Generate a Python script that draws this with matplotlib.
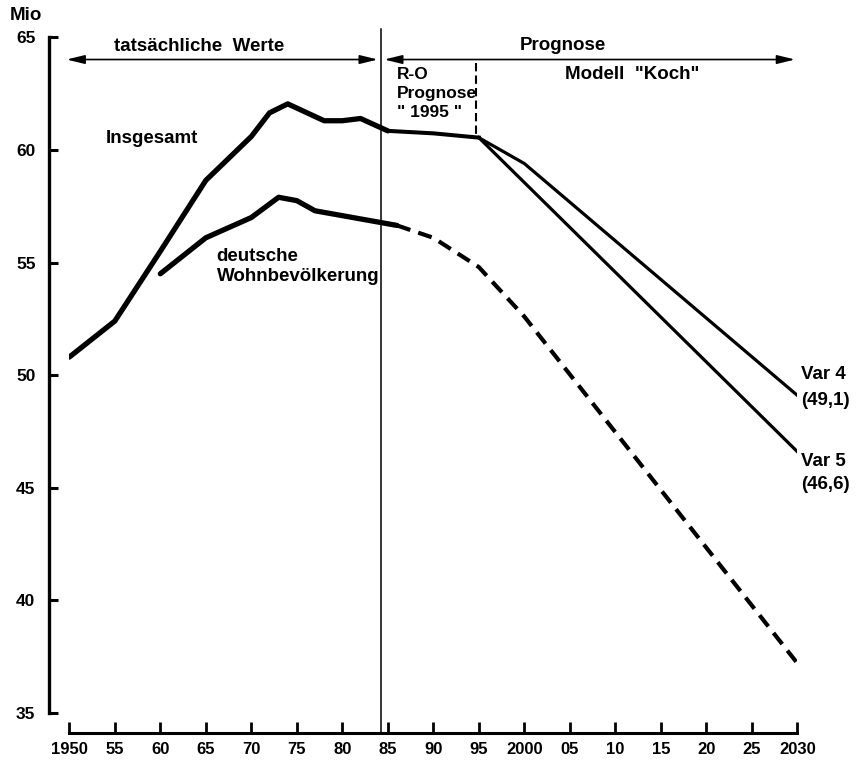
import matplotlib

matplotlib.use("Agg")
import matplotlib.pyplot as plt

plt.rcParams["font.family"] = ["Liberation Sans", "DejaVu Sans"]
plt.rcParams["font.weight"] = "bold"
plt.rcParams["font.size"] = 12

# ── data (Mio) ──
ins_years = [1950, 1955, 1960, 1965, 1970, 1972, 1974, 1978, 1980, 1982, 1985]
ins_values = [50.8, 52.4, 55.5, 58.65, 60.6, 61.65, 62.05, 61.3, 61.3, 61.4, 60.85]

ro_years = [1985, 1990, 1995]
ro_values = [60.85, 60.74, 60.55]

var4_years = [1995, 2000, 2030]
var4_values = [60.55, 59.4, 49.1]

var5_years = [1995, 2030]
var5_values = [60.55, 46.6]

dt_years = [1960, 1965, 1970, 1973, 1975, 1977, 1986]
dt_values = [54.5, 56.1, 57.0, 57.9, 57.75, 57.3, 56.65]

dt_prog_years = [1986, 1990, 1995, 2000, 2030]
dt_prog_values = [56.65, 56.1, 54.8, 52.6, 37.2]

x_ticks = list(range(1950, 2031, 5))
x_labels = ["1950", "55", "60", "65", "70", "75", "80", "85", "90", "95",
            "2000", "05", "10", "15", "20", "25", "2030"]
y_ticks = [35, 40, 45, 50, 55, 60, 65]

split_year = 1984.2
ro_end = 1994.7
TXT = 13.5

fig = plt.figure(figsize=(8.6, 7.63), dpi=100)
ax = fig.add_axes([0.0806, 0.0659, 0.8465, 0.8850])

# ── lines ──
ax.plot(ins_years, ins_values, color="black", lw=3.8, solid_joinstyle="round",
        solid_capstyle="round")
ax.plot(ro_years, ro_values, color="black", lw=2.9)
ax.plot(var4_years, var4_values, color="black", lw=2.3)
ax.plot(var5_years, var5_values, color="black", lw=2.3)
ax.plot(dt_years, dt_values, color="black", lw=3.8, solid_joinstyle="round",
        solid_capstyle="round")
ax.plot(dt_prog_years, dt_prog_values, color="black", lw=3.0,
        linestyle=(0, (3.4, 2.0)))

# separators
ax.plot([split_year, split_year], [65.36, 34.11], color="black", lw=1.1,
        clip_on=False)
ax.plot([ro_end, ro_end], [63.85, 60.6], color="black", lw=1.5,
        linestyle=(0, (4, 2)))

# ── arrows on top ──
arrow = dict(arrowstyle="<|-|>,head_length=0.9,head_width=0.22",
             color="black", lw=1.2, shrinkA=0, shrinkB=0, mutation_scale=12)
ax.annotate("", xy=(1949.7, 64.02), xytext=(1983.9, 64.02), arrowprops=arrow,
            annotation_clip=False)
ax.annotate("", xy=(1984.6, 64.02), xytext=(2029.75, 64.02), arrowprops=arrow,
            annotation_clip=False)

ax.text(1964.3, 64.6, "tatsächliche  Werte", ha="center", va="center", fontsize=TXT)
ax.text(2004.2, 64.66, "Prognose", ha="center", va="center", fontsize=TXT)
ax.text(1986.0, 63.67, "R-O\nPrognose\n\" 1995 \"", ha="left", va="top",
        linespacing=1.3, fontsize=12.5)
ax.text(2011.9, 63.35, "Modell  \"Koch\"", ha="center", va="center", fontsize=TXT)

ax.text(1959.05, 60.51, "Insgesamt", ha="center", va="center", fontsize=TXT)
ax.text(1966.2, 55.66, "deutsche\nWohnbevölkerung", ha="left", va="top",
        linespacing=1.25, fontsize=TXT)
ax.text(2030.4, 50.39, "Var 4\n(49,1)", ha="left", va="top", linespacing=1.7,
        fontsize=TXT, clip_on=False)
ax.text(2030.4, 46.55, "Var 5\n(46,6)", ha="left", va="top", linespacing=1.5,
        fontsize=TXT, clip_on=False)
fig.text(26 / 860, 1 - 15 / 763, "Mio", ha="center", va="center", fontsize=TXT)

# ── axes ──
ax.set_xlim(1950, 2030)
ax.set_ylim(35, 65)
for side in ["top", "right"]:
    ax.spines[side].set_visible(False)
ax.spines["left"].set_position(("outward", 14.4))
ax.spines["bottom"].set_position(("outward", 14.4))
ax.spines["left"].set_bounds(35, 65)
ax.spines["bottom"].set_bounds(1950, 2030)
ax.spines["left"].set_linewidth(2.4)
ax.spines["bottom"].set_linewidth(2.2)

ax.set_xticks(x_ticks)
ax.set_xticklabels(x_labels)
ax.set_yticks(y_ticks)
ax.tick_params(axis="y", direction="in", length=6.5, width=2.2, pad=10,
               labelsize=12.5)
ax.tick_params(axis="x", direction="in", length=8, width=2.0, pad=7)

fig.savefig("out.png", dpi=100)
plt.close()
